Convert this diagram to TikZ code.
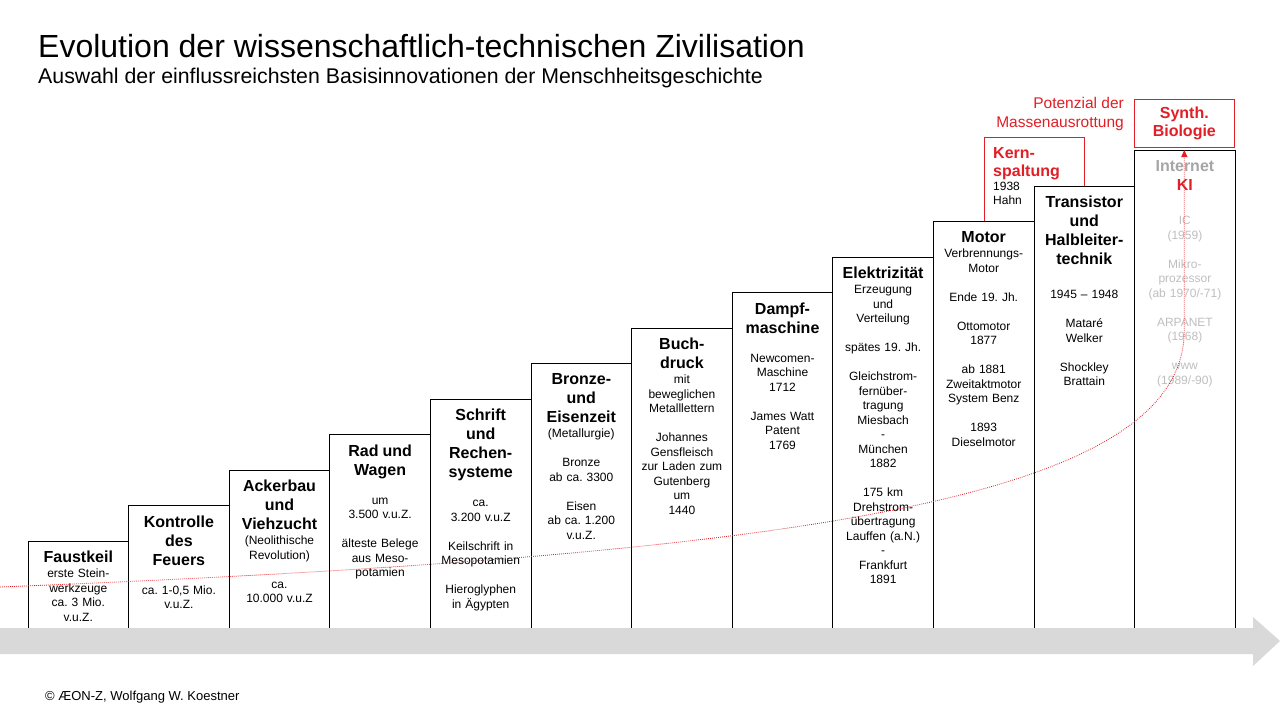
\documentclass[tikz,border=0pt]{standalone}
\usepackage{fontspec}
\setmainfont{Liberation Sans}
\usetikzlibrary{positioning,arrows.meta}
\definecolor{redclr}{RGB}{226,30,38}
\definecolor{bandclr}{RGB}{217,217,217}
\definecolor{grayhd}{RGB}{166,166,166}
\definecolor{graytxt}{RGB}{191,191,191}
\frenchspacing
\newcommand{\hdfont}{\fontsize{16}{19}\selectfont\bfseries}
\newcommand{\hd}[1]{{\hdfont #1}}
\newcommand{\nlhd}{\\[4.5pt]}
\newcommand{\nlbody}{\\[0.5pt]}
\newcommand{\nlgap}{\\[14.5pt]}
\newcommand{\nlbig}{\\[19.5pt]}
\tikzset{ %
  ,>={Triangle[length=7pt,width=6pt]}
  ,stepbox/.style={draw, fill=white, line width=1pt, minimum width=100.6pt, inner sep=0, outer sep=0, anchor=south west}
  ,redbox/.style={draw=redclr, fill=white, line width=1pt, minimum width=100.6pt, inner sep=0, outer sep=0}
  ,bd/.style={align=center, text width=99pt, inner sep=0, font={\fontsize{12}{14.5}\selectfont\lineskiplimit=-50pt}}
  ,redline/.style={draw=redclr, line width=0.8pt, dash pattern=on 0.8pt off 1.2pt}
}

\begin{document}
\begin{tikzpicture}[x=1pt,y=-1pt]
  \useasboundingbox (0,0) rectangle (1280,720);
  \node[anchor=base west, inner sep=0, font=\fontsize{32}{38}\selectfont] (title) at (38,57) {Evolution der wissenschaftlich-technischen Zivilisation};
  \node[anchor=base west, inner sep=0, font=\fontsize{21.3}{25}\selectfont] (subtitle) at (38,83) {Auswahl der einflussreichsten Basisinnovationen der Menschheitsgeschichte};

  % Kernspaltung behind the steps
  \node[redbox, anchor=north west, minimum width=100pt, minimum height=100pt] (kern) at (984,137) {};
  \node[bd, align=left, text width=80pt, anchor=north west, below right=10pt and 9pt of kern.north west] (ktxt)
    {\hd{\color{redclr}Kern-}\\[3.5pt]\hd{\color{redclr}spaltung}\\[-0.5pt]1938\\Hahn};

  % steps
  \node[stepbox, minimum height=88pt] (b1) at (28,629) {};
  \node[right=0pt of b1.south east, stepbox, minimum height=123.5pt] (b2) {};
  \node[right=0pt of b2.south east, stepbox, minimum height=159pt] (b3) {};
  \node[right=0pt of b3.south east, stepbox, minimum height=194.5pt] (b4) {};
  \node[right=0pt of b4.south east, stepbox, minimum height=230pt] (b5) {};
  \node[right=0pt of b5.south east, stepbox, minimum height=265.5pt] (b6) {};
  \node[right=0pt of b6.south east, stepbox, minimum height=301pt] (b7) {};
  \node[right=0pt of b7.south east, stepbox, minimum height=336.5pt] (b8) {};
  \node[right=0pt of b8.south east, stepbox, minimum height=372pt] (b9) {};
  \node[right=0pt of b9.south east, stepbox, minimum height=407.5pt] (b10) {};
  \node[right=0pt of b10.south east, stepbox, minimum height=443pt] (b11) {};
  \node[right=0pt of b11.south east, stepbox, minimum height=478.5pt] (b12) {};

  \node[bd, below=10pt of b1.north] (t1) {\hd{Faustkeil}\nlbody erste Stein-\\werkzeuge\\ca. 3 Mio.\\v.u.Z.};
  \node[bd, below=10pt of b2.north] (t2) {\hd{Kontrolle}\nlhd\hd{des}\nlhd\hd{Feuers}\nlgap ca. 1-0,5 Mio.\\v.u.Z.};
  \node[bd, below=10pt of b3.north] (t3) {\hd{Ackerbau}\nlhd\hd{und}\nlhd\hd{Viehzucht}\nlbody (Neolithische\\Revolution)\nlgap ca.\\10.000 v.u.Z};
  \node[bd, below=10pt of b4.north] (t4) {\hd{Rad und}\nlhd\hd{Wagen}\nlgap um\\3.500 v.u.Z.\nlgap älteste Belege\\aus Meso-\\potamien};
  \node[bd, below=10pt of b5.north] (t5) {\hd{Schrift}\nlhd\hd{und}\nlhd\hd{Rechen-}\nlhd\hd{systeme}\nlgap ca.\\3.200 v.u.Z\nlgap Keilschrift in\\Mesopotamien\nlgap Hieroglyphen\\in Ägypten};
  \node[bd, below=10pt of b6.north] (t6) {\hd{Bronze-}\nlhd\hd{und}\nlhd\hd{Eisenzeit}\nlbody (Metallurgie)\nlgap Bronze\\ab ca. 3300\nlgap Eisen\\ab ca. 1.200\\v.u.Z.};
  \node[bd, below=10pt of b7.north] (t7) {\hd{Buch-}\nlhd\hd{druck}\nlbody mit\\beweglichen\\Metalllettern\nlgap Johannes\\Gensfleisch\\zur Laden zum\\Gutenberg\\um\\1440};
  \node[bd, below=10pt of b8.north] (t8) {\hd{Dampf-}\nlhd\hd{maschine}\nlgap Newcomen-\\Maschine\\1712\nlgap James Watt\\Patent\\1769};
  \node[bd, below=10pt of b9.north] (t9) {\hd{Elektrizität}\nlbody Erzeugung\\und\\Verteilung\nlgap spätes 19. Jh.\nlgap Gleichstrom-\\fernüber-\\tragung\\Miesbach\\-\\München\\1882\nlgap 175 km\\Drehstrom-\\übertragung\\Lauffen (a.N.)\\-\\Frankfurt\\1891};
  \node[bd, below=10pt of b10.north] (t10) {\hd{Motor}\nlbody Verbrennungs-\\Motor\nlgap Ende 19. Jh.\nlgap Ottomotor\\1877\nlgap ab 1881\\Zweitaktmotor\\System Benz\nlgap 1893\\Dieselmotor};
  \node[bd, below=10pt of b11.north] (t11) {\hd{Transistor}\nlhd\hd{und}\nlhd\hd{Halbleiter-}\nlhd\hd{technik}\nlbig 1945 – 1948\nlgap Mataré\\Welker\nlgap Shockley\\Brattain};
  \node[bd, text=graytxt, below=10pt of b12.north] (t12) {\hd{\color{grayhd}Internet}\nlhd\hd{\color{redclr}KI}\nlbig IC\\(1959)\nlgap Mikro-\\prozessor\\(ab 1970/-71)\nlgap ARPANET\\(1968)\nlgap www\\(1989/-90)};

  % top
  \node[redbox, anchor=north west, minimum height=48pt, align=center, text=redclr, font={\fontsize{16}{18}\selectfont\bfseries}] (synth) at (1134,99) {Synth.\\Biologie};
  \node[anchor=north east, align=right, inner sep=0, text=redclr, font={\fontsize{15.5}{19}\selectfont}, below left=-2pt and 10pt of synth.north west] (pot) {Potenzial der\\Massenausrottung};

  % time axis
  \fill[bandclr] (0,628) -- (1253,628) -- (1253,617) -- (1280,641) -- (1253,666) -- (1253,654) -- (0,654) -- cycle;

  \coordinate (orig) at (0,587);
  \draw[redline, ->, shorten >=3pt] (orig) .. controls (800,555) and (1184.3,500) .. (1184.3,330) -- (synth.south);

  \node[anchor=base west, inner sep=0, font=\fontsize{13}{16}\selectfont] (footer) at (45,700) {© ÆON-Z, Wolfgang W. Koestner};
\end{tikzpicture}
\end{document}
